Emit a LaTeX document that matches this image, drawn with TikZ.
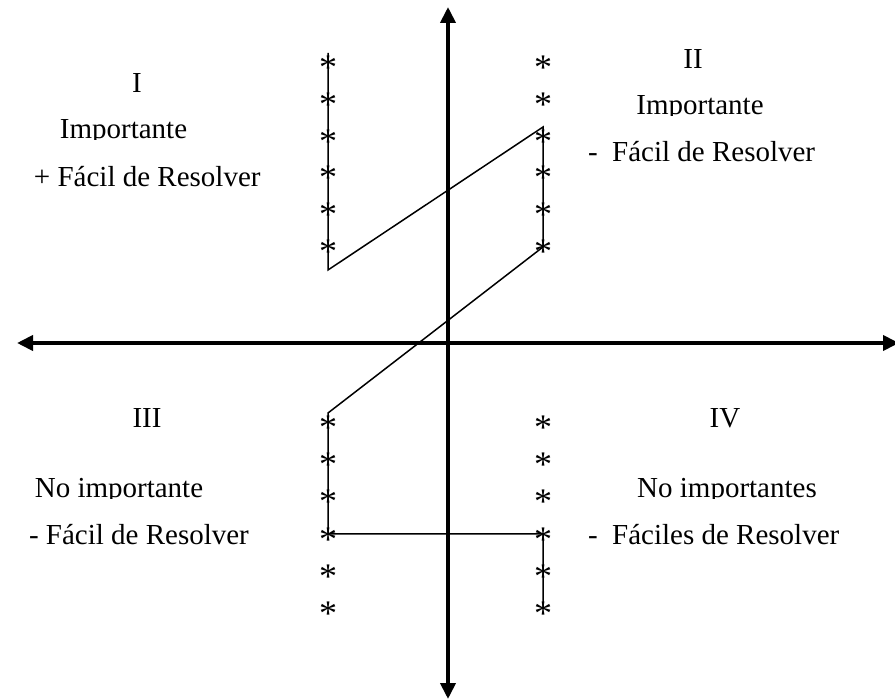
\documentclass[tikz,border=0pt]{standalone}
\usepackage{fontspec}
\setmainfont{Liberation Serif}
\usetikzlibrary{arrows.meta}
\begin{document}
\begin{tikzpicture}[x=1pt,y=-1pt,
  lbl/.style={inner sep=0pt,outer sep=0pt,font=\fontsize{29}{34}\selectfont,anchor=base},
  lblw/.style={lbl,anchor=base west},
  ast/.style={inner sep=0pt,outer sep=0pt,font=\fontsize{36}{40}\selectfont,anchor=base},
  axis/.style={line width=3.8pt,{Triangle[length=16pt,width=15pt]}-{Triangle[length=16pt,width=15pt]}},
  trace/.style={line width=1.5pt,line join=miter}]
\useasboundingbox (0,0) rectangle (895,700);
% axes
\coordinate (N) at (448,7);
\coordinate (S) at (448,699);
\coordinate (W) at (17,343);
\coordinate (E) at (899,343);
\draw[axis] (S) -- (N);
\draw[axis] (W) -- (E);
% trace
\coordinate (p1) at (328,53);
\coordinate (p2) at (328,270);
\coordinate (p3) at (543,127);
\coordinate (p4) at (543,247);
\coordinate (p5) at (328,413);
\coordinate (p6) at (328,534);
\coordinate (p7) at (543,534);
\coordinate (p8) at (543,609);
\draw[trace] (p1) -- (p2) -- (p3) -- (p4) -- (p5) -- (p6) -- (p7) -- (p8);
% stars
\foreach \yy [count=\i] in {63,100,137,173,210,247,423,460,497,534,571,608}{
  \node[ast] (sl\i) at (328,\yy+17) {*};
  \node[ast] (sr\i) at (543,\yy+17) {*};
}
% quadrant I
\node[lbl] (q1) at (137,93) {I};
\begin{scope}\clip (0,0) rectangle (300,140);
\node[lbl] (q1a) at (123.5,138.5) {Importante};
\end{scope}
\node[lblw] (q1b) at (34,187) {+ Fácil de Resolver};
% quadrant II
\node[lbl] (q2) at (693,68.5) {II};
\begin{scope}\clip (560,0) rectangle (895,116);
\node[lbl] (q2a) at (700,115) {Importante};
\end{scope}
\node[lblw] (q2b) at (588,162) {-~~Fácil de Resolver};
% quadrant III
\node[lbl] (q3) at (147,428) {III};
\begin{scope}\clip (0,380) rectangle (300,499);
\node[lbl] (q3a) at (119,498) {No importante};
\end{scope}
\node[lblw] (q3b) at (29,544) {- Fácil de Resolver};
% quadrant IV
\node[lbl] (q4) at (725,428) {IV};
\begin{scope}\clip (560,380) rectangle (895,499);
\node[lbl] (q4a) at (727,498) {No importantes};
\end{scope}
\node[lblw] (q4b) at (588,544) {-~~Fáciles de Resolver};
\end{tikzpicture}
\end{document}
